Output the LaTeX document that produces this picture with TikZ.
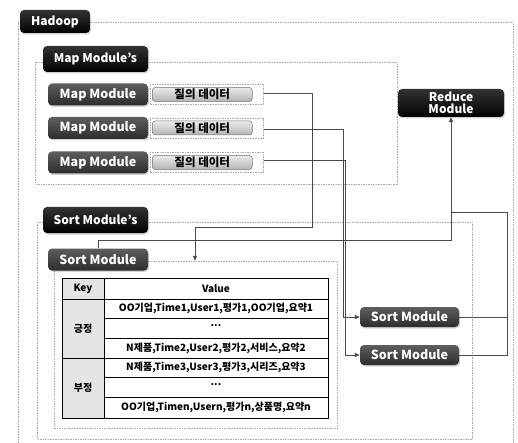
\documentclass[tikz,border=0pt]{standalone}
\usepackage{fontspec}
\setmainfont{Noto Sans CJK KR}
\usetikzlibrary{arrows.meta,shadows}
\definecolor{tagtop}{HTML}{5E5E5E}
\definecolor{tagbot}{HTML}{2C2C2C}
\definecolor{keygray}{HTML}{E4E4E4}
\definecolor{linkgray}{HTML}{4A4A4A}
\definecolor{framegray}{HTML}{A8A8A8}
\begin{document}
\begin{tikzpicture}[x=1pt,y=-1pt,
  frame/.style={draw=framegray, line width=0.5pt, dash pattern=on 1.5pt off 1pt},
  framenode/.style={frame, inner sep=0pt},
  blacktag/.style={rounded corners=4pt, top color=black!80, bottom color=black,
    text=white, inner sep=0pt, align=center,
    font=\bfseries\fontsize{12}{12}\selectfont,
    drop shadow={opacity=0.35, shadow xshift=1pt, shadow yshift=-1.5pt}},
  graytag/.style={rounded corners=4pt, top color=tagtop, bottom color=tagbot,
    text=white, inner sep=0pt, minimum width=100pt,
    font=\bfseries\fontsize{12.5}{12}\selectfont,
    drop shadow={opacity=0.35, shadow xshift=1pt, shadow yshift=-1.5pt}},
  qbtn/.style={rounded corners=3pt, draw=black!55, line width=0.5pt,
    top color=white!92!black, bottom color=black!30, inner sep=0pt,
    minimum width=100pt, minimum height=14pt,
    font=\bfseries\fontsize{11.5}{11}\selectfont},
  link/.style={draw=linkgray, line width=0.8pt},
  tip/.style={-{Triangle[length=5pt,width=4pt]}},
  cell/.style={inner sep=0pt, font=\bfseries\fontsize{10}{10}\selectfont}]
\useasboundingbox (0,0) rectangle (518,443);

% outer Hadoop frame, running past the bottom edge
\draw[frame] (18,450) -- (18,22) -- (513,22) -- (513,450);
\node[blacktag, minimum width=70pt, minimum height=23pt] (hadoop) at (55,21.5) {Hadoop};

% map stage
\draw[frame] (35,62) rectangle (397,184);
\node[blacktag, minimum width=105pt, minimum height=26pt] (maplbl) at (95.5,59) {Map Module's};

\foreach \i/\y in {1/94.5, 2/128, 3/162.5}{
  \node[graytag, minimum height=22pt] (map\i) at (98,\y) {Map Module};
  \node[framenode, minimum width=113pt, minimum height=20pt, anchor=west] (qf\i) at (150,\y) {};
  \node[qbtn, anchor=west] (q\i) at (152,\y) {질의 데이터};
}

\node[blacktag, minimum width=106pt, minimum height=28pt,
  font=\bfseries\fontsize{12}{12.5}\selectfont] (reduce) at (451,103) {Reduce\\Module};

% sort stage
\draw[frame] (37,222) rectangle (472,439);
\node[blacktag, minimum width=105pt, minimum height=26pt] (sortlbl) at (95.5,220) {Sort Module's};
\node[framenode, minimum width=283pt, minimum height=167pt] (sframe) at (195.5,344.5) {};
\node[graytag, minimum height=22pt] (sortL) at (98,259.5) {Sort Module};

\node[graytag, minimum height=20pt, minimum width=99pt] (sm1) at (409.5,317) {Sort Module};
\node[graytag, minimum height=20pt, minimum width=99pt] (sm2) at (409.5,355) {Sort Module};

% key / value table
\fill[keygray] (62,278) rectangle (104,418);
\draw[line width=0.7pt] (62,278) rectangle (328,418);
\draw[line width=0.7pt] (104,278) -- (104,418);
\foreach \y in {299,358}{\draw[line width=0.7pt] (62,\y) -- (328,\y);}
\foreach \y in {318,338,377,397}{\draw[line width=0.7pt] (104,\y) -- (328,\y);}
\node[cell] (kh) at (83,288.5) {Key};
\node[cell] (vh) at (216,288.5) {Value};
\node[cell] (kpos) at (83,328.5) {긍정};
\node[cell] (kneg) at (83,388) {부정};
\node[cell] (v1) at (216,308.5) {OO기업,Time1,User1,평가1,OO기업,요약1};
\node[cell] (v2) at (216,326) {...};
\node[cell] (v3) at (216,348) {N제품,Time2,User2,평가2,서비스,요약2};
\node[cell] (v4) at (216,367.5) {N제품,Time3,User3,평가3,시리즈,요약3};
\node[cell] (v5) at (216,385) {...};
\node[cell] (v6) at (216,407.5) {OO기업,Timen,Usern,평가n,상품명,요약n};

% connectors
\coordinate (c1) at (195,0);
\draw[link, tip] (qf1.east |- 0,93) -- (312,93) -- (312,227) -- (195,227) -- (c1 |- sframe.north);
\draw[link, tip] (qf2.east |- 0,129) -- (343,129) -- (343,317) -- (sm1.west);
\draw[link, tip] (qf3.east |- 0,160) -- (345,160) -- (345,355) -- (sm2.west);
\coordinate (c2) at (98,0);
\draw[link, tip] (c2 |- sortL.north) -- (98,240) -- (451,240) -- (reduce.south);
\draw[link] (sm1.east) -- (507,317) -- (507,212) -- (451,212);
\draw[link] (sm2.east) -- (507,355) -- (507,317);
\end{tikzpicture}
\end{document}
